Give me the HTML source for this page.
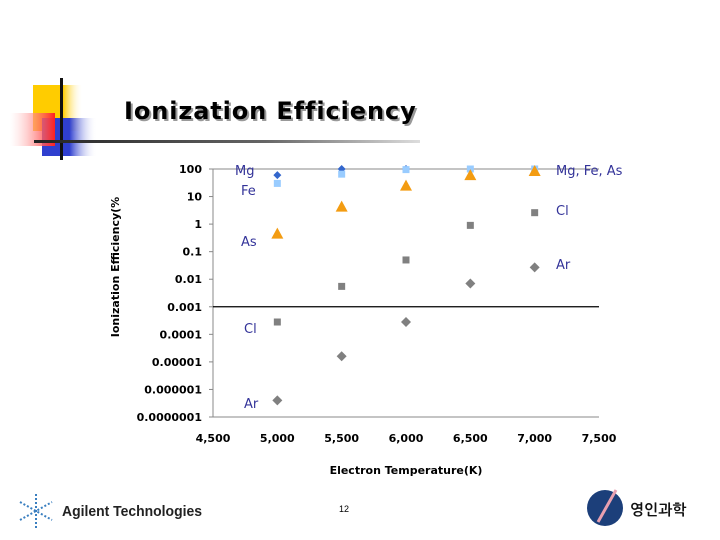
<!DOCTYPE html>
<html><head><meta charset="utf-8"><style>
body{margin:0;width:720px;height:540px;background:#fff;overflow:hidden;font-family:"DejaVu Sans","Liberation Sans",sans-serif}
svg{display:block}
</style></head><body>
<svg id="c" width="720" height="540" viewBox="0 0 720 540" xmlns="http://www.w3.org/2000/svg">
<defs>
<linearGradient id="gy" x1="0" x2="1"><stop offset="0.6" stop-color="#ffcc00"/><stop offset="1" stop-color="#fff" stop-opacity="0"/></linearGradient>
<linearGradient id="gb" x1="0" x2="1"><stop offset="0.5" stop-color="#2f3fcf"/><stop offset="1" stop-color="#fff" stop-opacity="0"/></linearGradient>
<linearGradient id="gr" x1="1" x2="0"><stop offset="0" stop-color="#ff2020"/><stop offset="1" stop-color="#fff" stop-opacity="0.3"/></linearGradient>
<linearGradient id="gl" x1="0" x2="1"><stop offset="0" stop-color="#222"/><stop offset="0.6" stop-color="#666"/><stop offset="1" stop-color="#ddd"/></linearGradient>
</defs>
<g>
<rect x="33" y="85" width="50" height="46" fill="url(#gy)"/>
<rect x="42" y="118" width="55" height="38" fill="url(#gb)"/>
<rect x="10" y="113" width="45" height="33" fill="url(#gr)"/>
<rect x="60" y="78" width="3" height="82" fill="#111"/>
<rect x="34" y="140" width="386" height="3" fill="url(#gl)"/>
</g>
<text x="126" y="121" font-size="24" font-weight="bold" letter-spacing="0.9" fill="#999">Ionization Efficiency</text>
<text x="124" y="119" font-size="24" font-weight="bold" letter-spacing="0.9" fill="#000">Ionization Efficiency</text>
<g id="chart"></g>
<text x="119" y="267" font-size="11" font-weight="bold" transform="rotate(-90 119 267)" text-anchor="middle">Ionization Efficiency(%</text>
<text x="406" y="474" font-size="11" font-weight="bold" text-anchor="middle">Electron Temperature(K)</text>
<g>
<g stroke="#3a7fc0" stroke-width="2" stroke-dasharray="2 2"><line x1="36" y1="494" x2="36" y2="528"/><line x1="20" y1="502" x2="52" y2="520"/><line x1="20" y1="520" x2="52" y2="502"/></g>
<text x="62" y="516" font-size="15" font-weight="bold" textLength="140" lengthAdjust="spacingAndGlyphs" font-family="'Liberation Sans',sans-serif" fill="#222">Agilent Technologies</text>
</g>
<text x="344" y="512" font-size="9" text-anchor="middle" font-family="'Liberation Sans',sans-serif">12</text>
<g>
<circle cx="605" cy="508" r="18" fill="#1c3f7a"/>
<line x1="598" y1="522" x2="616" y2="490" stroke="#e8a0b0" stroke-width="3"/>
<text x="630" y="515" font-size="15" font-weight="bold" font-family="'Liberation Sans','NanumGothic','Noto Sans CJK KR',sans-serif" fill="#111">영인과학</text>
</g>
</svg>
<script>
const categories=[5000,5500,6000,6500,7000];
const mgValues=[60,100,100,null,null];
const feValues=[30,65,95,100,100];
const asValues=[0.45,4.3,25,60,85];
const clValues=[0.00028,0.0055,0.05,0.9,2.6];
const arValues=[4e-7,1.6e-5,0.00028,0.007,0.027];
const yTicks=[100,10,1,0.1,0.01,0.001,0.0001,0.00001,0.000001,0.0000001];
const yTickLabels=["100","10","1","0.1","0.01","0.001","0.0001","0.00001","0.000001","0.0000001"];
const xTicks=[4500,5000,5500,6000,6500,7000,7500];
const xTickLabels=["4,500","5,000","5,500","6,000","6,500","7,000","7,500"];
const NS="http://www.w3.org/2000/svg";
const L=213,R=599,T=169,B=417;
const xS=v=>L+(v-4500)/3000*(R-L);
const yS=v=>T+(2-Math.log10(v))/9*(B-T);
const g=document.getElementById('chart');
function mk(t,a){const e=document.createElementNS(NS,t);for(const k in a)e.setAttribute(k,a[k]);g.appendChild(e);return e;}
let e;
e=mk('line',{x1:L,y1:T,x2:R,y2:T,stroke:'#888'});


e=mk('line',{x1:L,y1:B,x2:R,y2:B,stroke:'#888'});


e=mk('line',{x1:L,y1:T,x2:L,y2:B,stroke:'#888'});


e=mk('line',{x1:L,y1:yS(0.001),x2:R,y2:yS(0.001),stroke:'#000','stroke-width':1.2});


yTicks.forEach((v,i)=>{
 e=mk('line',{x1:L-4,y1:yS(v),x2:L,y2:yS(v),stroke:'#888'});
 
 
 e=mk('text',{x:L-11,y:yS(v)+4,'font-size':11,'font-weight':'bold','text-anchor':'end'});
 e.textContent=yTickLabels[i];
 
 
});
xTicks.forEach((v,i)=>{
 e=mk('text',{x:xS(v),y:442,'font-size':11,'font-weight':'bold','text-anchor':'middle'});
 e.textContent=xTickLabels[i];
 
 
});
function sq(x,y,s,c){return mk('rect',{x:x-s/2,y:y-s/2,width:s,height:s,fill:c});}
function dia(x,y,s,c){return mk('polygon',{points:`${x},${y-s} ${x+s},${y} ${x},${y+s} ${x-s},${y}`,fill:c});}
function tri(x,y,c){return mk('polygon',{points:`${x},${y-6} ${x+6},${y+5} ${x-6},${y+5}`,fill:c});}
categories.forEach((c,i)=>{
 const x=xS(c);
 e=sq(x,yS(clValues[i]),7,'#808080');
 
 
 e=dia(x,yS(arValues[i]),5,'#808080');
 
 
 if(mgValues[i]!=null){
  e=dia(x,yS(mgValues[i]),4,'#3366cc');
  
  
 }
 e=sq(x,yS(feValues[i]),7,'#99ccff');
 
 
 e=tri(x,yS(asValues[i]),'#f39c12');
 
 
});
const labels=[["Mg",235,175],["Fe",241,195],["As",241,246],["Cl",244,333],["Ar",244,408],["Mg, Fe, As",556,175],["Cl",556,215],["Ar",556,269]];
labels.forEach(l=>{
 e=mk('text',{x:l[1],y:l[2],'font-size':13,fill:'#333399'});
 e.textContent=l[0];
 
 
});
</script>
</body></html>
